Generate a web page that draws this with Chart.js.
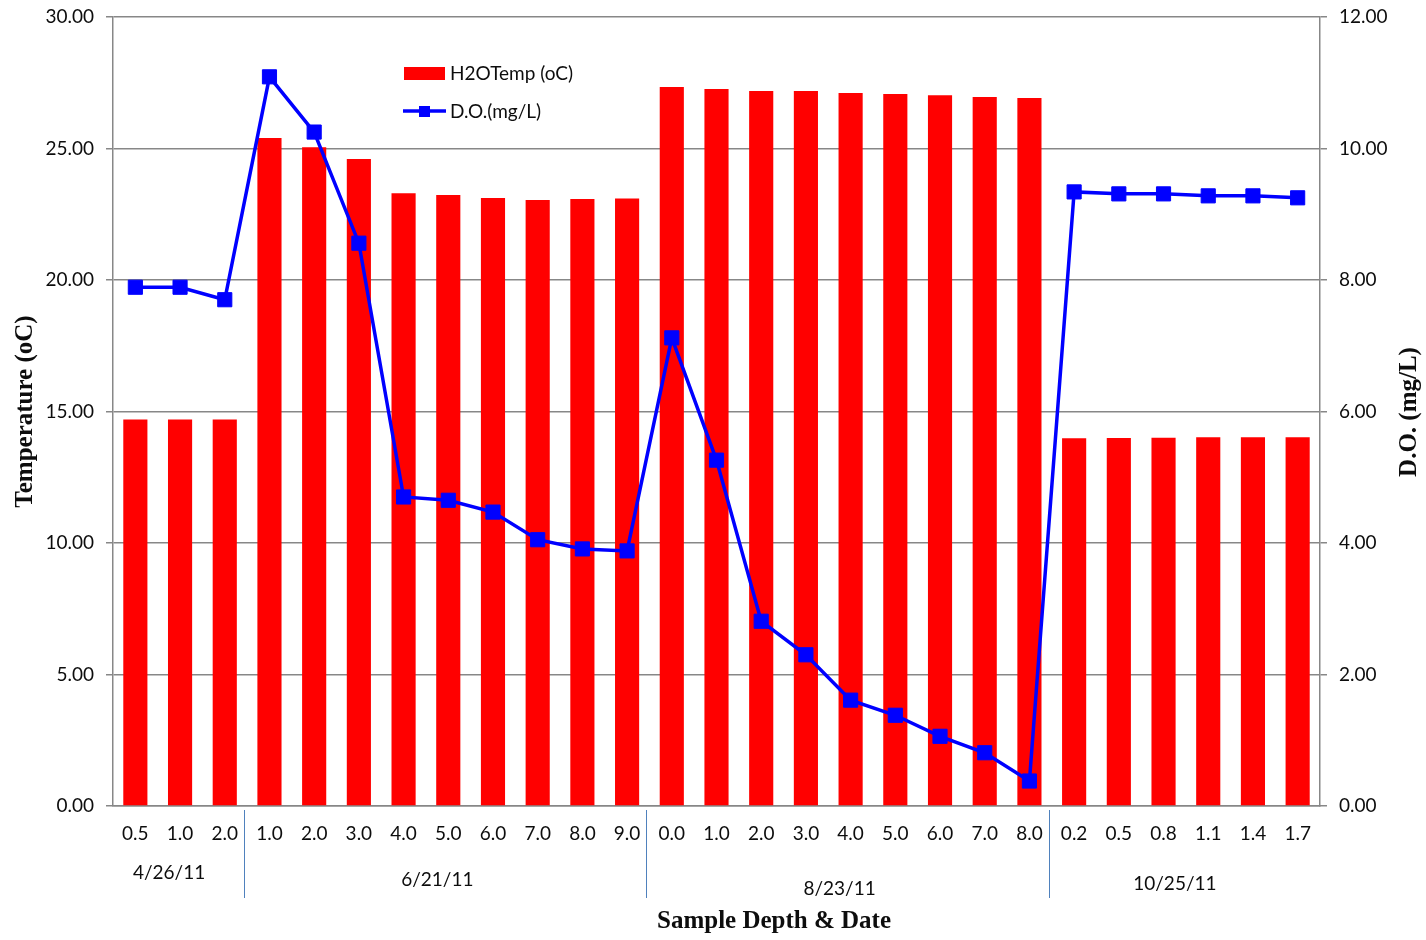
<!DOCTYPE html>
<html>
<head>
<meta charset="utf-8">
<script src="https://cdn.jsdelivr.net/npm/chart.js@4/dist/chart.umd.min.js"></script>
<style>
  html, body { margin: 0; padding: 0; background: #fff; }
</style>
</head>
<body>
<canvas id="chart" width="1426" height="940"></canvas>
<script>
// sampling dates and the depths taken on each date
const dates = ['4/26/11', '6/21/11', '8/23/11', '10/25/11'];
const depths = [
  ['0.5', '1.0', '2.0'],
  ['1.0', '2.0', '3.0', '4.0', '5.0', '6.0', '7.0', '8.0', '9.0'],
  ['0.0', '1.0', '2.0', '3.0', '4.0', '5.0', '6.0', '7.0', '8.0'],
  ['0.2', '0.5', '0.8', '1.1', '1.4', '1.7']
];

// water temperature (oC), left axis
const waterTemp = [
  14.7, 14.7, 14.7,
  25.4, 25.05, 24.6, 23.3, 23.23, 23.12, 23.04, 23.08, 23.1,
  27.34, 27.26, 27.19, 27.19, 27.11, 27.07, 27.02, 26.96, 26.92,
  13.98, 13.99, 14.0, 14.02, 14.02, 14.02
];

// dissolved oxygen (mg/L), right axis
const dissolvedO2 = [
  7.89, 7.89, 7.70,
  11.09, 10.25, 8.56, 4.70, 4.65, 4.47, 4.05, 3.91, 3.88,
  7.12, 5.26, 2.81, 2.30, 1.61, 1.38, 1.06, 0.81, 0.38,
  9.34, 9.31, 9.31, 9.28, 9.28, 9.25
];

const labels = depths.flat();

const TEXT = '#0d0d0d';
const GRID = '#878787';
const tickFont = { family: 'Lato', size: 19 };
const titleFont = '700 25px "Liberation Serif"';

// date groups under the depth labels, separators, extra titles and legend
const extrasPlugin = {
  id: 'extras',
  afterDraw(chart) {
    const ctx = chart.ctx;
    const x = chart.scales.x;
    const area = chart.chartArea;
    const groupY = [873, 880, 889, 884];
    ctx.save();

    // group separators + date labels
    let start = 0;
    ctx.font = '19px Lato';
    ctx.fillStyle = TEXT;
    ctx.textAlign = 'center';
    ctx.textBaseline = 'middle';
    depths.forEach((grp, i) => {
      const end = start + grp.length - 1;
      const cx = (x.getPixelForValue(start) + x.getPixelForValue(end)) / 2 - 11;
      ctx.fillText(dates[i], cx, groupY[i]);
      if (i < depths.length - 1) {
        const sx = Math.round((x.getPixelForValue(end) + x.getPixelForValue(end + 1)) / 2 - 3) + 0.5;
        ctx.strokeStyle = '#4f81bd';
        ctx.lineWidth = 1;
        ctx.beginPath();
        ctx.moveTo(sx, area.bottom + 4);
        ctx.lineTo(sx, area.bottom + 92);
        ctx.stroke();
      }
      start = end + 1;
    });

    // x axis title
    ctx.font = titleFont;
    ctx.fillText('Sample Depth & Date', 774, 922);

    // right axis title, reading upward
    ctx.save();
    ctx.translate(1410, 412);
    ctx.rotate(-Math.PI / 2);
    ctx.fillText('D.O. (mg/L)', 0, 0);
    ctx.restore();

    // legend
    const bar = chart.data.datasets[0];
    const line = chart.data.datasets[1];
    ctx.fillStyle = bar.backgroundColor;
    ctx.fillRect(404, 67, 41, 13);
    ctx.strokeStyle = line.borderColor;
    ctx.lineWidth = 3.5;
    ctx.beginPath();
    ctx.moveTo(403, 111);
    ctx.lineTo(446, 111);
    ctx.stroke();
    ctx.fillStyle = line.borderColor;
    ctx.fillRect(419, 106, 11, 11);
    ctx.fillStyle = TEXT;
    ctx.font = '19px Lato';
    ctx.textAlign = 'left';
    ctx.fillText(bar.label, 450, 74);
    ctx.fillText(line.label, 450, 112);

    ctx.restore();
  }
};

function fixVertical(width) {
  return s => {
    s.width = width;
    s.paddingTop = 0;
    s.paddingBottom = 0;
  };
}

new Chart(document.getElementById('chart'), {
  type: 'bar',
  data: {
    labels: labels,
    datasets: [
      {
        type: 'bar',
        label: 'H2OTemp (oC)',
        data: waterTemp,
        yAxisID: 'y',
        backgroundColor: '#ff0000',
        barPercentage: 1,
        categoryPercentage: 0.54,
        order: 2
      },
      {
        type: 'line',
        label: 'D.O.(mg/L)',
        data: dissolvedO2,
        yAxisID: 'y1',
        borderColor: '#0000ff',
        backgroundColor: '#0000ff',
        borderWidth: 3.5,
        pointStyle: 'rect',
        pointRadius: 10,
        pointBorderWidth: 1,
        tension: 0,
        order: 1
      }
    ]
  },
  options: {
    responsive: false,
    animation: false,
    layout: { padding: { top: 17, left: 0, right: 0, bottom: 0 } },
    plugins: {
      legend: { display: false },
      tooltip: { enabled: false }
    },
    scales: {
      x: {
        grid: { display: false, drawTicks: false },
        border: { display: true, color: GRID, width: 1.5 },
        ticks: { font: tickFont, color: TEXT, padding: 16, autoSkip: false, maxRotation: 0 },
        afterFit(s) {
          s.height = 134;
          s.paddingLeft = 0;
          s.paddingRight = 0;
        }
      },
      y: {
        position: 'left',
        min: 0,
        max: 30,
        ticks: {
          stepSize: 5,
          font: tickFont,
          color: TEXT,
          padding: 12,
          callback: v => v.toFixed(2)
        },
        grid: { color: GRID, lineWidth: 1.5, tickLength: 7 },
        border: { color: GRID, width: 1.5 },
        title: {
          display: true,
          text: 'Temperature (oC)',
          color: TEXT,
          font: { family: 'Liberation Serif', size: 25, weight: 'bold' },
          padding: { top: 11, bottom: 0 }
        },
        afterFit: fixVertical(113)
      },
      y1: {
        position: 'right',
        min: 0,
        max: 12,
        ticks: {
          stepSize: 2,
          font: tickFont,
          color: TEXT,
          padding: 12,
          callback: v => v.toFixed(2)
        },
        grid: { drawOnChartArea: false, color: GRID, lineWidth: 1.5, tickLength: 7 },
        border: { color: GRID, width: 1.5 },
        afterFit: fixVertical(106)
      }
    }
  },
  plugins: [extrasPlugin]
});
</script>
</body>
</html>
